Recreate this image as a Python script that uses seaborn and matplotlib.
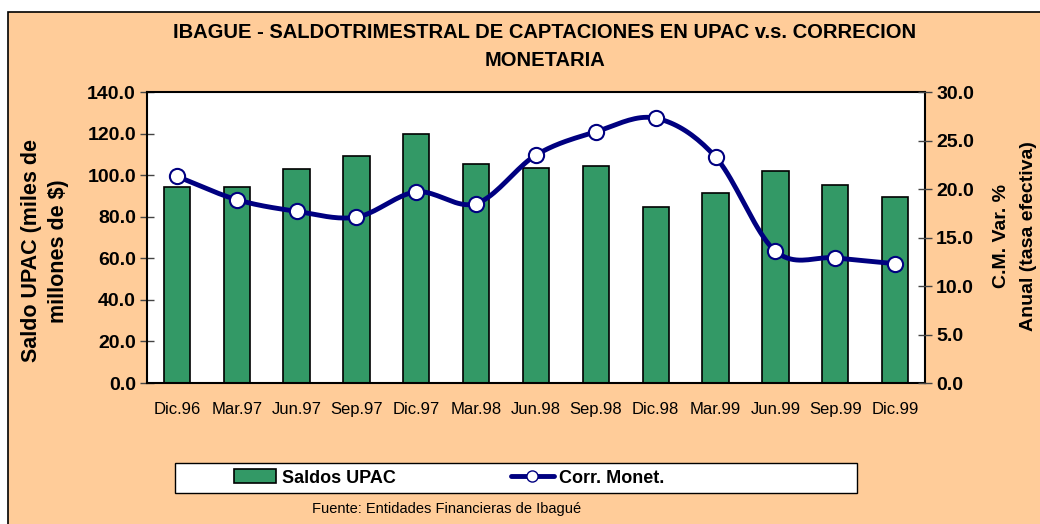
import matplotlib
matplotlib.use("Agg")
import matplotlib.pyplot as plt
from matplotlib.lines import Line2D
from matplotlib.patches import Patch, Rectangle
import numpy as np
import pandas as pd
import seaborn as sns

# quarters and values
quarters = ["Dic.96", "Mar.97", "Jun.97", "Sep.97", "Dic.97", "Mar.98", "Jun.98",
            "Sep.98", "Dic.98", "Mar.99", "Jun.99", "Sep.99", "Dic.99"]
saldo_upac = [94.4, 94.3, 102.8, 109.2, 119.6, 105.5, 103.6,
              104.5, 84.8, 91.4, 101.8, 95.2, 89.6]
corr_monet = [21.3, 18.9, 17.7, 17.1, 19.7, 18.5, 23.5,
              25.9, 27.3, 23.3, 13.6, 12.9, 12.3]

PEACH = "#FFCC99"
GREEN = "#339966"
NAVY = "#000080"


def smooth_curve(y, steps=20):
    """Catmull-Rom curve through the points, like Excel's smoothed line."""
    y = np.asarray(y, dtype=float)
    x = np.arange(len(y), dtype=float)
    px = np.concatenate([[2 * x[0] - x[1]], x, [2 * x[-1] - x[-2]]])
    py = np.concatenate([[2 * y[0] - y[1]], y, [2 * y[-1] - y[-2]]])
    xs, ys = [], []
    t = np.linspace(0, 1, steps, endpoint=False)
    for i in range(1, len(px) - 2):
        for p, out in ((px, xs), (py, ys)):
            p0, p1, p2, p3 = p[i - 1], p[i], p[i + 1], p[i + 2]
            out.extend(0.5 * (2 * p1 + (-p0 + p2) * t
                              + (2 * p0 - 5 * p1 + 4 * p2 - p3) * t ** 2
                              + (-p0 + 3 * p1 - 3 * p2 + p3) * t ** 3))
    xs.append(x[-1])
    ys.append(y[-1])
    return np.array(xs), np.array(ys)


sns.set_style("white")
plt.rcParams["font.family"] = ["Liberation Sans", "DejaVu Sans"]
plt.rcParams["text.color"] = "black"
plt.rcParams["axes.labelcolor"] = "black"
plt.rcParams["xtick.color"] = "black"
plt.rcParams["ytick.color"] = "black"

df = pd.DataFrame({"trimestre": quarters, "saldo": saldo_upac})

fig = plt.figure(figsize=(10.4, 5.24), dpi=100, facecolor="white")
fig.patches.append(Rectangle((8 / 1040, -0.01), 1.0, 1 - 12 / 524 + 0.01,
                             transform=fig.transFigure, facecolor=PEACH,
                             edgecolor="black", linewidth=1.2, zorder=-10))

ax = fig.add_axes([147 / 1040, 1 - 383 / 524, (925 - 147) / 1040, (383 - 92) / 524])
ax.set_facecolor("white")
sns.barplot(data=df, x="trimestre", y="saldo", color=GREEN, width=0.44,
            edgecolor="black", linewidth=1.2, saturation=1, ax=ax)
ax.set_xlim(-0.5, len(quarters) - 0.5)
ax.set_ylim(0, 140)
ax.set_yticks(np.arange(0, 141, 20))
ax.set_yticklabels([f"{v:.1f}" for v in np.arange(0, 141, 20)],
                   fontsize=14, fontweight="bold")
ax.set_xticks(np.arange(len(quarters) + 1) - 0.5)
ax.set_xticklabels([])
ax.set_xticks(np.arange(len(quarters)), minor=True)
ax.set_xticklabels(quarters, minor=True, fontsize=12, va="center")
ax.tick_params(axis="x", which="major", direction="out", length=5, width=1)
ax.tick_params(axis="x", which="minor", length=0, pad=19)
ax.tick_params(axis="y", direction="inout", length=10, width=1, color="#444444", pad=3)
ax.set_xlabel("")
ax.set_ylabel("Saldo UPAC (miles de\nmillones de $)", fontsize=15.5,
              fontweight="bold", linespacing=1.35)
ax.yaxis.set_label_coords((69 - 147) / 778, (383 - 251) / 291)
for s in ax.spines.values():
    s.set_color("black")
    s.set_linewidth(1.5)

ax2 = ax.twinx()
sx, sy = smooth_curve(corr_monet)
ax2.plot(sx, sy, color=NAVY, linewidth=3.5, solid_capstyle="round", zorder=3)
sns.scatterplot(x=np.arange(len(quarters)), y=corr_monet, ax=ax2, s=120,
                color="white", edgecolor=NAVY, linewidth=1.5, zorder=4)
ax2.set_ylim(0, 30)
ax2.set_yticks(np.arange(0, 31, 5))
ax2.set_yticklabels([f"{v:.1f}" for v in np.arange(0, 31, 5)],
                    fontsize=14, fontweight="bold")
ax2.tick_params(axis="y", direction="inout", length=10, width=1, color="#444444", pad=3)
ax2.set_ylabel("C.M. Var. %\nAnual (tasa efectiva)", fontsize=14,
               fontweight="bold", linespacing=1.8)
ax2.yaxis.set_label_coords((993 - 147) / 778, (383 - 236) / 291)
for s in ax2.spines.values():
    s.set_visible(False)

fig.text(545 / 1040, 1 - 33 / 524,
         "IBAGUE - SALDOTRIMESTRAL DE CAPTACIONES EN UPAC v.s. CORRECION",
         ha="center", va="center", fontsize=14.5, fontweight="bold")
fig.text(545 / 1040, 1 - 61 / 524, "MONETARIA",
         ha="center", va="center", fontsize=14.5, fontweight="bold")

# legend box drawn separately so the entries can sit where they do in the original
fig.patches.append(Rectangle((175 / 1040, 1 - 493 / 524), (857 - 175) / 1040, 30 / 524,
                             transform=fig.transFigure, facecolor="white",
                             edgecolor="black", linewidth=1.0, zorder=5))
handles = [Patch(facecolor=GREEN, edgecolor="black", linewidth=1.2),
           Line2D([0], [0], color=NAVY, linewidth=3.5, marker="o",
                  markersize=8, markerfacecolor="white", markeredgecolor=NAVY)]
leg = fig.legend(handles, ["Saldos UPAC", "Corr. Monet."], ncol=2,
                 loc="center left", bbox_to_anchor=(234 / 1040, 1 - 478 / 524),
                 frameon=False, borderpad=0, borderaxespad=0,
                 handlelength=2.35, handleheight=0.8, handletextpad=0.3,
                 columnspacing=6.4, prop={"size": 13, "weight": "bold"})
leg.set_zorder(6)

fig.text(447 / 1040, 1 - 509 / 524, "Fuente: Entidades Financieras de Ibagué",
         ha="center", va="center", fontsize=10.5)

fig.savefig("out.png", dpi=100, facecolor=fig.get_facecolor())
